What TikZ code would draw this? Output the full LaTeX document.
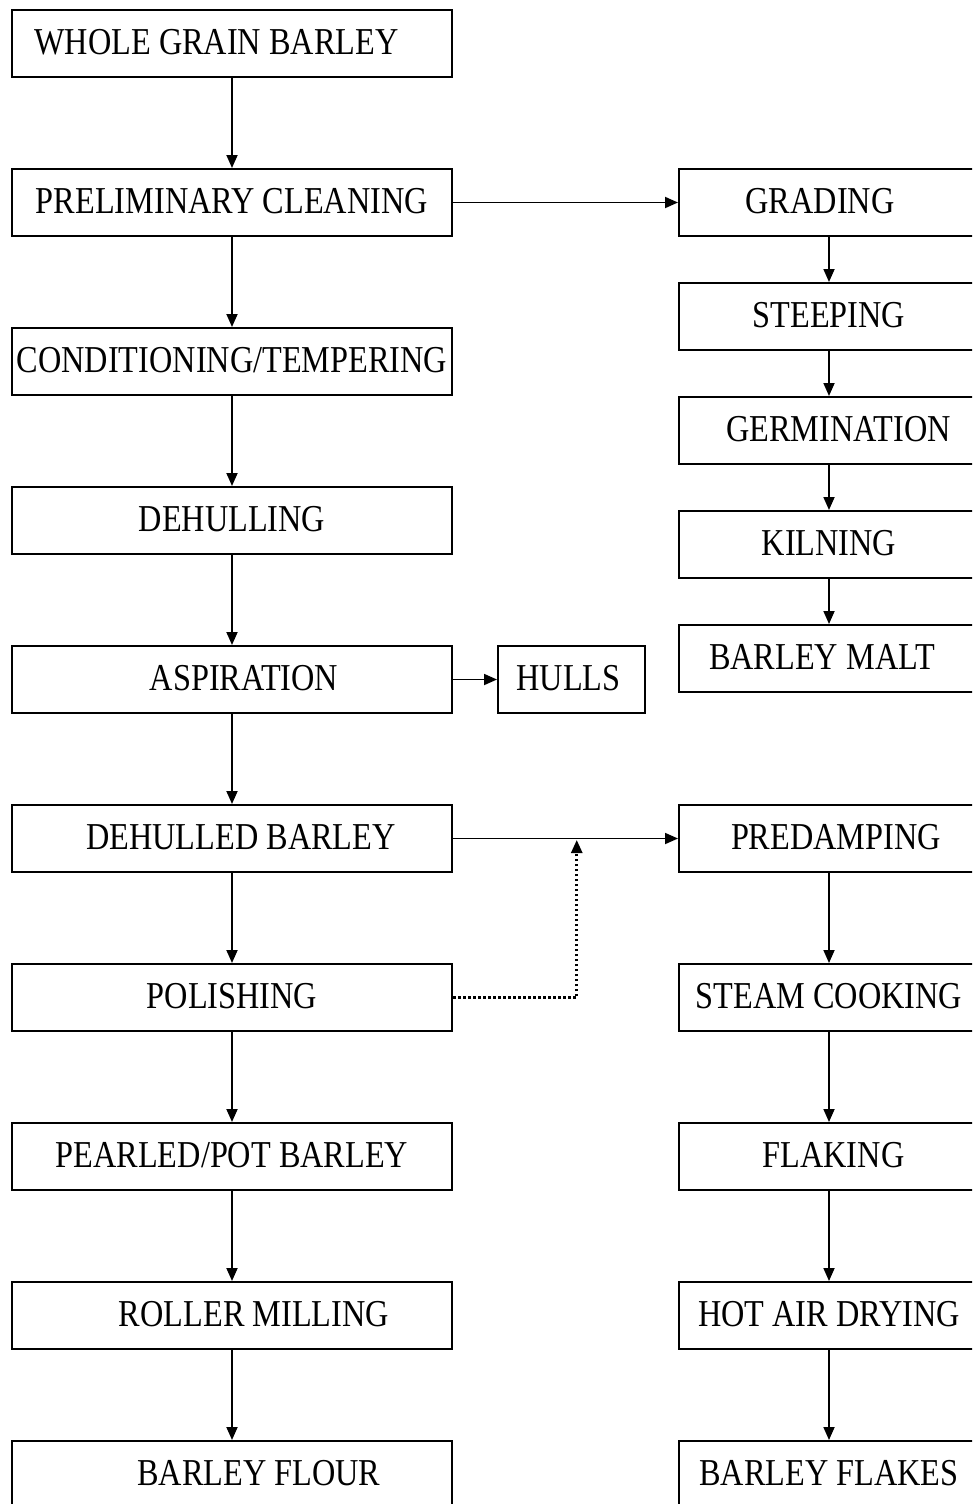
\documentclass[tikz,border=0pt]{standalone}
\usepackage{fontspec}
\setmainfont{Liberation Serif}[FakeStretch=0.85]
\usetikzlibrary{arrows.meta, calc}

\begin{document}
\begin{tikzpicture}[x=1pt, y=-1pt,
    stage/.style={draw, line width=2pt, minimum width=440pt, minimum height=67pt,
        inner sep=0pt, text height=25pt, text depth=3pt,
        font=\fontsize{38}{42}\selectfont},
    side/.style={stage, minimum width=300pt},
    flow/.style={-{Triangle[length=13pt,width=11pt]}, line width=1.8pt},
    dots/.style={flow, line width=2.6pt, dash pattern=on 2.6pt off 2.4pt}]
    \useasboundingbox (0,0) rectangle (972,1504);
    \clip (0,0) rectangle (972,1504);

    % Main milling line
    \node[stage] (whole)    at (232,43.5)   {\hspace*{-31pt}WHOLE GRAIN BARLEY};
    \node[stage] (clean)    at (232,202.5)  {PRELIMINARY CLEANING};
    \node[stage] (cond)     at (232,361.5)  {CONDITIONING/TEMPERING};
    \node[stage] (dehull)   at (232,520.5)  {DEHULLING};
    \node[stage] (aspir)    at (232,679.5)  {\hspace*{24pt}ASPIRATION};
    \node[stage] (dehulled) at (232,838.5)  {\hspace*{18pt}DEHULLED BARLEY};
    \node[stage] (polish)   at (232,997.5)  {POLISHING};
    \node[stage] (pearl)    at (232,1156.5) {PEARLED/POT BARLEY};
    \node[stage] (mill)     at (232,1315.5) {\hspace*{44pt}ROLLER MILLING};
    \node[stage] (flour)    at (232,1474.5) {\hspace*{54pt}BARLEY FLOUR};

    % By-product
    \node[stage, minimum width=147pt] (hulls) at (571.5,679.5) {\hspace*{-6pt}HULLS};

    % Malting line
    \node[side] (grade) at (829,202.5) {\hspace*{-18pt}GRADING};
    \node[side] (steep) at (829,316.5) {STEEPING};
    \node[side] (germ)  at (829,430.5) {\hspace*{19pt}GERMINATION};
    \node[side] (kiln)  at (829,544.5) {KILNING};
    \node[side] (malt)  at (829,658.5) {\hspace*{-14pt}BARLEY MALT};

    % Flaking line
    \node[side] (predamp) at (829,838.5)  {\hspace*{14pt}PREDAMPING};
    \node[side] (steam)   at (829,997.5)  {STEAM COOKING};
    \node[side] (flake)   at (829,1156.5) {\hspace*{9pt}FLAKING};
    \node[side] (dry)     at (829,1315.5) {HOT AIR DRYING};
    \node[side] (flakes)  at (829,1474.5) {BARLEY FLAKES};

    \foreach \a/\b in {whole/clean, clean/cond, cond/dehull, dehull/aspir,
        aspir/dehulled, dehulled/polish, polish/pearl, pearl/mill, mill/flour,
        grade/steep, steep/germ, germ/kiln, kiln/malt,
        predamp/steam, steam/flake, flake/dry, dry/flakes,
        clean/grade, aspir/hulls, dehulled/predamp}
        \draw[flow] (\a) -- (\b);

    % Polished grain joins the flaking line
    \coordinate (merge) at ($(dehulled.east)!0.55!(predamp.west)$);
    \draw[dots] (polish.east) -| ([yshift=-1.5pt]merge);
\end{tikzpicture}
\end{document}
